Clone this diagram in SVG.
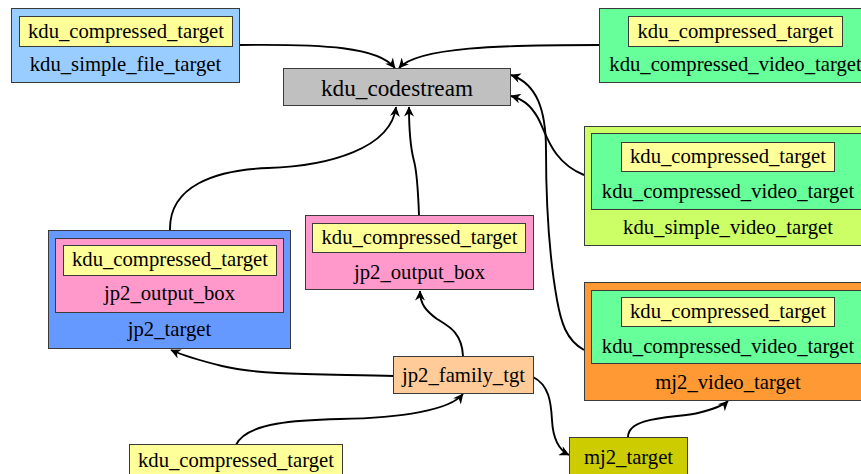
<svg xmlns="http://www.w3.org/2000/svg" width="861" height="474" viewBox="0 0 861 474">
<style>
  .n { stroke: #3a3a3a; stroke-width: 1; }
  .t { font-family: "Liberation Serif", "Times New Roman", serif; font-size: 20.7px; fill: #000; text-anchor: middle; }
  .big { font-size: 23.2px; }
  .e { fill: none; stroke: #000; stroke-width: 1.9; marker-end: url(#arr); }
  .yel { fill: #ffff99; }
  .grn { fill: #66ff99; }
  .pnk { fill: #ff99cc; }
</style>
<defs>
  <marker id="arr" viewBox="0 0 10 10" refX="9.5" refY="5" markerWidth="11" markerHeight="10" markerUnits="userSpaceOnUse" orient="auto">
    <path d="M0,0 L10,5 L0,10 L3,5 z" fill="#000"/>
  </marker>
</defs>
<rect width="861" height="474" fill="#fff"/>

<g id="connectors">
  <path class="e" d="M240,45 C325,44 378,47 395,68"/>
  <path class="e" d="M599,45 C500,45 418,47 399,68"/>
  <path class="e" d="M584,175 C552,162 547,135 538,118 C530,104 522,99 511,96"/>
  <path class="e" d="M584,350 C566,340 561,322 557,300 C549,255 546,205 546,150 C546,110 537,84 511,75"/>
  <path class="e" d="M170,230 C169,186 215,170 268,168 C330,166 391,148 396,107"/>
  <path class="e" d="M419,215 C418,188 417,172 414,161 C410,146 409,126 409,107"/>
  <path class="e" d="M463,356 C462,332 448,326 437,319 C426,311 420,304 420,291"/>
  <path class="e" d="M394,376 C330,374 262,376 222,366 C198,360 182,355 171,350"/>
  <path class="e" d="M236,445 C246,422 300,420 340,419 C402,418 450,410 463,394"/>
  <path class="e" d="M533,377 C549,385 551,402 552,420 C553,440 559,450 569,455"/>
  <path class="e" d="M628,437 C628,416 676,418 698,413 C714,409 724,405 728,401"/>
</g>

<g id="kdu_simple_file_target">
  <rect class="n" x="11.5" y="8.5" width="228" height="74" fill="#99ccff"/>
  <rect class="n yel" x="19.5" y="16.5" width="213" height="30"/>
  <text class="t" x="126" y="37.5">kdu_compressed_target</text>
  <text class="t" x="125.5" y="71">kdu_simple_file_target</text>
</g>

<g id="kdu_codestream">
  <rect class="n" x="283.5" y="68.5" width="227" height="37" fill="#c0c0c0"/>
  <text class="t big" x="397" y="95.5">kdu_codestream</text>
</g>

<g id="kdu_compressed_video_target">
  <rect class="n grn" x="599.5" y="8.5" width="272" height="74"/>
  <rect class="n yel" x="628.5" y="16.5" width="214" height="30"/>
  <text class="t" x="735.5" y="37.5">kdu_compressed_target</text>
  <text class="t" x="735.5" y="71">kdu_compressed_video_target</text>
</g>

<g id="kdu_simple_video_target">
  <rect class="n" x="584.5" y="126.5" width="287" height="119" fill="#ccff66"/>
  <rect class="n grn" x="591.5" y="133.5" width="272" height="76"/>
  <rect class="n yel" x="621.5" y="142.5" width="213" height="29"/>
  <text class="t" x="728" y="163">kdu_compressed_target</text>
  <text class="t" x="728" y="197.5">kdu_compressed_video_target</text>
  <text class="t" x="728" y="233.5">kdu_simple_video_target</text>
</g>

<g id="mj2_video_target">
  <rect class="n" x="584.5" y="282.5" width="287" height="118" fill="#ff9933"/>
  <rect class="n grn" x="591.5" y="290.5" width="272" height="73"/>
  <rect class="n yel" x="621.5" y="297.5" width="213" height="29"/>
  <text class="t" x="728" y="318">kdu_compressed_target</text>
  <text class="t" x="728" y="352.5">kdu_compressed_video_target</text>
  <text class="t" x="728" y="389">mj2_video_target</text>
</g>

<g id="mj2_target">
  <rect class="n" x="569.5" y="437.5" width="118" height="50" fill="#cccc00"/>
  <text class="t" x="628.5" y="463.5">mj2_target</text>
</g>

<g id="jp2_target">
  <rect class="n" x="48.5" y="230.5" width="242" height="118" fill="#6699ff"/>
  <rect class="n pnk" x="55.5" y="238.5" width="228" height="74"/>
  <rect class="n yel" x="63.5" y="245.5" width="213" height="30"/>
  <text class="t" x="170" y="266">kdu_compressed_target</text>
  <text class="t" x="169.5" y="300">jp2_output_box</text>
  <text class="t" x="169.5" y="336">jp2_target</text>
</g>

<g id="jp2_output_box">
  <rect class="n pnk" x="305.5" y="215.5" width="228" height="74"/>
  <rect class="n yel" x="312.5" y="223.5" width="213" height="29"/>
  <text class="t" x="419.5" y="244">kdu_compressed_target</text>
  <text class="t" x="419.5" y="278.5">jp2_output_box</text>
</g>

<g id="jp2_family_tgt">
  <rect class="n" x="393.5" y="356.5" width="140" height="37" fill="#ffcc99"/>
  <text class="t" x="463.5" y="382">jp2_family_tgt</text>
</g>

<g id="kdu_compressed_target">
  <rect class="n yel" x="129.5" y="444.5" width="213" height="40"/>
  <text class="t" x="236" y="466.5">kdu_compressed_target</text>
</g>
</svg>
